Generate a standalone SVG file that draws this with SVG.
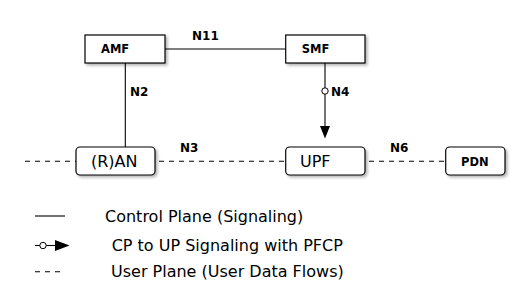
<svg xmlns="http://www.w3.org/2000/svg" width="530" height="308" viewBox="0 0 530 308">
<style>
.box{fill:#fff;stroke:#000;stroke-width:1.2}
.bt{font-family:"DejaVu Sans",sans-serif;font-weight:bold;font-size:11.5px;fill:#000}
.rt{font-family:"DejaVu Sans",sans-serif;font-size:16px;fill:#000}
.lbl{font-family:"DejaVu Sans",sans-serif;font-weight:bold;font-size:12px;fill:#000}
.lg{font-family:"DejaVu Sans",sans-serif;font-size:16px;fill:#000}
.cp{stroke:#000;stroke-width:1.1;fill:none}
.up{stroke:#000;stroke-width:1.1;fill:none;stroke-dasharray:5 5}
</style>
<defs>
<filter id="sh" x="-10%" y="-20%" width="130%" height="160%">
<feGaussianBlur in="SourceAlpha" stdDeviation="1.5"/>
<feOffset dx="2" dy="2" result="b"/>
<feComponentTransfer><feFuncA type="linear" slope="0.3"/></feComponentTransfer>
<feMerge><feMergeNode/><feMergeNode in="SourceGraphic"/></feMerge>
</filter>
</defs>
<rect width="530" height="308" fill="#fff"/>
<g id="connectors">
<line class="cp" x1="165" y1="49" x2="286" y2="49"/>
<line class="cp" x1="125.3" y1="63" x2="125.3" y2="147"/>
<line class="cp" x1="325" y1="63" x2="325" y2="127"/>
<polygon points="320,126 330,126 325,138.5" fill="#000"/>
<circle cx="325" cy="91" r="3.2" fill="#fff" stroke="#000" stroke-width="1"/>
<line class="up" x1="25" y1="161.3" x2="76" y2="161.3"/>
<line class="up" x1="159" y1="161.3" x2="286" y2="161.3"/>
<line class="up" x1="369" y1="161.3" x2="446" y2="161.3"/>
<text class="lbl" x="192" y="40">N11</text>
<text class="lbl" x="130" y="96">N2</text>
<text class="lbl" x="331" y="96">N4</text>
<text class="lbl" x="180" y="152">N3</text>
<text class="lbl" x="390" y="152">N6</text>
</g>
<g id="AMF">
<rect class="box" x="85" y="35" width="80" height="28" filter="url(#sh)"/>
<text class="bt" x="101" y="53">AMF</text>
</g>
<g id="SMF">
<rect class="box" x="285.7" y="35" width="79.3" height="28" filter="url(#sh)"/>
<text class="bt" x="301.7" y="53">SMF</text>
</g>
<g id="RAN">
<rect class="box" x="76" y="147" width="79" height="28" rx="4" filter="url(#sh)"/>
<text class="rt" x="91" y="166.7">(R)AN</text>
</g>
<g id="UPF">
<rect class="box" x="285.7" y="147" width="79.3" height="28" rx="4" filter="url(#sh)"/>
<text class="rt" x="300" y="166.7">UPF</text>
</g>
<g id="PDN">
<rect class="box" x="445.7" y="147" width="59.3" height="28" rx="4" filter="url(#sh)"/>
<text class="bt" x="461" y="165.5">PDN</text>
</g>
<g id="legend">
<line class="cp" x1="35" y1="216" x2="65" y2="216"/>
<text class="lg" x="105" y="221.7">Control Plane (Signaling)</text>
<line class="cp" x1="35" y1="245.5" x2="56" y2="245.5"/>
<circle cx="43" cy="245.5" r="3.2" fill="#fff" stroke="#000" stroke-width="1"/>
<polygon points="55,240 55,251 69.5,245.5" fill="#000"/>
<text class="lg" x="111.7" y="250.7">CP to UP Signaling with PFCP</text>
<line class="cp" x1="35" y1="271.7" x2="61" y2="271.7" stroke-dasharray="5 5"/>
<text class="lg" x="111" y="277">User Plane (User Data Flows)</text>
</g>
</svg>
